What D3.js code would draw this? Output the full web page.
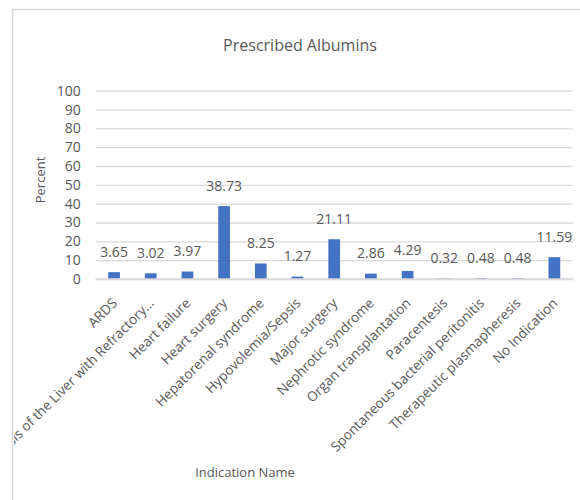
<!DOCTYPE html>
<html>
<head>
<meta charset="utf-8">
<script src="https://cdn.jsdelivr.net/npm/d3@7"></script>
<style>
  html, body { margin: 0; padding: 0; background: #fff; }
  svg { display: block; font-family: "Open Sans", sans-serif; }
</style>
</head>
<body>
<svg id="chart" width="580" height="500"></svg>
<script>
// Indications for prescribed albumin and share of prescriptions (%)
const categories = [
  "ARDS",
  "Cirrhosis of the Liver with Refractory…",
  "Heart failure",
  "Heart surgery",
  "Hepatorenal syndrome",
  "Hypovolemia/Sepsis",
  "Major surgery",
  "Nephrotic syndrome",
  "Organ transplantation",
  "Paracentesis",
  "Spontaneous bacterial peritonitis",
  "Therapeutic plasmapheresis",
  "No Indication"
];
const percentValues = [3.65, 3.02, 3.97, 38.73, 8.25, 1.27, 21.11, 2.86, 4.29, 0.32, 0.48, 0.48, 11.59];
const yTicks = [0, 10, 20, 30, 40, 50, 60, 70, 80, 90, 100];

const chartTitle = "Prescribed Albumins";
const yTitle = "Percent";
const xTitle = "Indication Name";

const textColor = "#595959";
const gridColor = "#D9D9D9";
const barColor = "#4472C4";

const svg = d3.select("#chart");

// chart frame
svg.append("rect")
  .attr("x", 12.5).attr("y", 9.5)
  .attr("width", 600).attr("height", 520)
  .attr("fill", "#fff")
  .attr("stroke", gridColor)
  .attr("stroke-width", 1.5);

// long category names are cut at the frame edge
svg.append("defs").append("clipPath").attr("id", "frame-clip")
  .append("rect").attr("x", 14).attr("y", 10).attr("width", 580).attr("height", 500);

const plot = { left: 95.7, right: 572.7, top: 90.7, bottom: 279 };

const x = d3.scaleBand()
  .domain(categories)
  .range([plot.left, plot.right])
  .paddingInner(0.68)
  .paddingOuter(0.34);

const y = d3.scaleLinear()
  .domain([0, 100])
  .range([plot.bottom, plot.top]);

// horizontal gridlines + value labels
const yAxis = d3.axisLeft(y)
  .tickValues(yTicks)
  .tickSize(-(plot.right - plot.left))
  .tickPadding(15);

const yg = svg.append("g")
  .attr("transform", `translate(${plot.left},0)`)
  .call(yAxis);
yg.select(".domain").remove();
yg.selectAll(".tick line").attr("stroke", gridColor).attr("stroke-width", 1.3);
yg.selectAll(".tick text")
  .attr("fill", textColor)
  .attr("font-size", 14)
  .attr("font-family", "Open Sans, sans-serif");

// bars
svg.append("g").selectAll("rect")
  .data(percentValues)
  .join("rect")
  .attr("x", (d, i) => x(categories[i]))
  .attr("width", x.bandwidth())
  .attr("y", d => y(d))
  .attr("height", d => y(0) - y(d))
  .attr("fill", barColor);

// category axis line
const xAxis = d3.axisBottom(x).tickSize(0).tickFormat("");
const xg = svg.append("g")
  .attr("transform", `translate(0,${plot.bottom})`)
  .call(xAxis);
xg.select(".domain")
  .attr("stroke", gridColor)
  .attr("stroke-width", 1.3)
  .attr("d", `M${plot.left},0H${plot.right}`);

// data labels
svg.append("g").selectAll("text")
  .data(percentValues)
  .join("text")
  .attr("x", (d, i) => x(categories[i]) + x.bandwidth() / 2)
  .attr("y", d => y(d) - 15.5)
  .attr("text-anchor", "middle")
  .attr("font-size", 14)
  .attr("fill", textColor)
  .text(d => d.toFixed(2));

// rotated category labels
svg.append("g").attr("clip-path", "url(#frame-clip)")
  .selectAll("text")
  .data(categories)
  .join("text")
  .attr("transform", d => `translate(${x(d) + x.bandwidth() / 2 + 4},${plot.bottom + 25}) rotate(-45)`)
  .attr("text-anchor", "end")
  .attr("font-size", 13.6)
  .attr("fill", textColor)
  .text(d => d);

// title
svg.append("text")
  .attr("x", 300).attr("y", 51)
  .attr("text-anchor", "middle")
  .attr("font-size", 16)
  .attr("fill", textColor)
  .text(chartTitle);

// axis titles
svg.append("text")
  .attr("transform", "translate(45,180) rotate(-90)")
  .attr("text-anchor", "middle")
  .attr("font-size", 13)
  .attr("fill", textColor)
  .text(yTitle);

svg.append("text")
  .attr("x", 245).attr("y", 477)
  .attr("text-anchor", "middle")
  .attr("font-size", 13)
  .attr("fill", textColor)
  .text(xTitle);
</script>
</body>
</html>
